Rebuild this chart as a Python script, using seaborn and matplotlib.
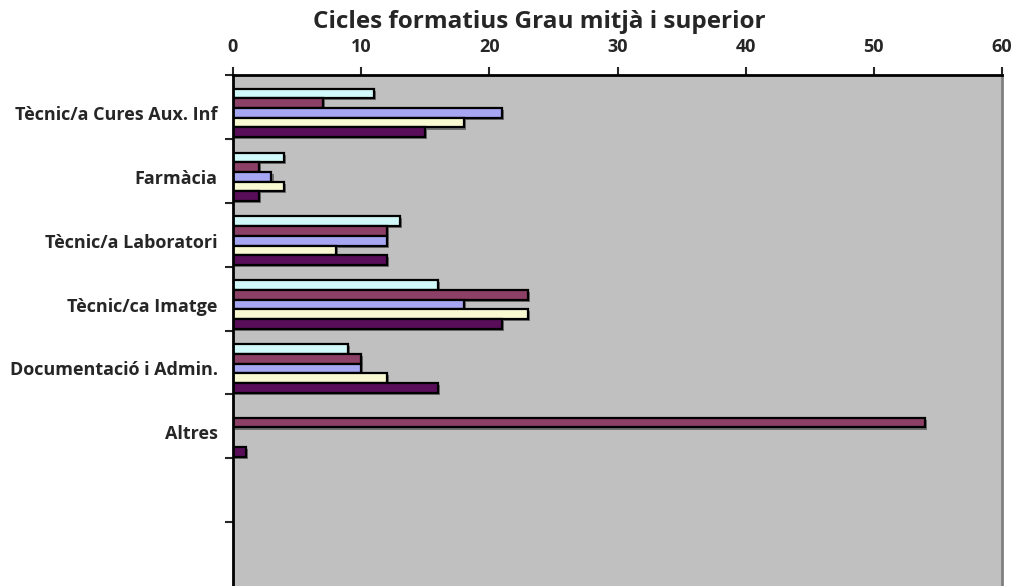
import pandas as pd
import matplotlib
matplotlib.use("Agg")
import matplotlib.pyplot as plt
import matplotlib.patheffects as pe
import seaborn as sns

# Categories and series values
categories = ["Tècnic/a Cures Aux. Inf", "Farmàcia", "Tècnic/a Laboratori",
              "Tècnic/ca Imatge", "Documentació i Admin.", "Altres"]
series_names = ["S1", "S2", "S3", "S4", "S5"]
s1 = [11, 4, 13, 16, 9, 0]
s2 = [7, 2, 12, 23, 10, 54]
s3 = [21, 3, 12, 18, 10, 0]
s4 = [18, 4, 8, 23, 12, 0]
s5 = [15, 2, 12, 21, 16, 1]
x_ticks = [0, 10, 20, 30, 40, 50, 60]

colors = ["#CCFFFF", "#993366", "#9999FF", "#FFFFCC", "#660066"]

# Tabel in lang formaat voor seaborn
rows = []
for name, vals in zip(series_names, [s1, s2, s3, s4, s5]):
    for cat, v in zip(categories, vals):
        rows.append({"Category": cat, "Series": name, "Value": v})
df = pd.DataFrame(rows)

sns.set_style("white")
plt.rcParams["font.family"] = ["Open Sans", "DejaVu Sans"]

fig = plt.figure(figsize=(10.16, 5.86), dpi=100)
ax = fig.add_axes([233 / 1016, 0, (1002 - 233) / 1016, 1 - 75 / 586])

sns.barplot(data=df, y="Category", x="Value", hue="Series", order=categories,
            hue_order=series_names, palette=colors, orient="h", width=0.76,
            edgecolor="black", linewidth=1.6, legend=False, ax=ax)

# schaduw onder de balken
for p in ax.patches:
    if p.get_width() > 0:
        p.set_path_effects([pe.SimplePatchShadow(offset=(1.5, -1.5), shadow_rgbFace="#707070", alpha=1),
                            pe.Normal()])
    else:
        p.set_visible(False)

ax.set_facecolor("#C0C0C0")
ax.set_xlim(0, 60)
# 8 vakken: 6 categorieën en 2 lege, grenzen iets boven het midden
off = 38 / 64
ax.set_ylim(8 - off, -off)

ax.xaxis.tick_top()
ax.set_xticks(x_ticks)
ax.set_xticklabels([str(t) for t in x_ticks], fontsize=13, fontweight="bold")
ax.tick_params(axis="x", direction="out", length=6, width=1.5, pad=8, top=True, bottom=False)

ax.set_yticks(range(len(categories)))
ax.set_yticklabels(categories, fontsize=13, fontweight="bold")
ax.tick_params(axis="y", which="major", length=0, pad=11)
ax.set_yticks([k - off for k in range(8)], minor=True)
ax.tick_params(axis="y", which="minor", direction="out", length=6, width=1.5, left=True)

ax.set_xlabel("")
ax.set_ylabel("")
for side in ["top", "left"]:
    ax.spines[side].set_color("black")
    ax.spines[side].set_linewidth(2)
ax.spines["right"].set_color("#808080")
ax.spines["right"].set_linewidth(2)
ax.spines["bottom"].set_visible(False)

fig.text(539 / 1016, 1 - 22 / 586, "Cicles formatius Grau mitjà i superior",
         ha="center", va="center", fontsize=17.5, fontweight="bold")

fig.savefig("out.png", dpi=100)
